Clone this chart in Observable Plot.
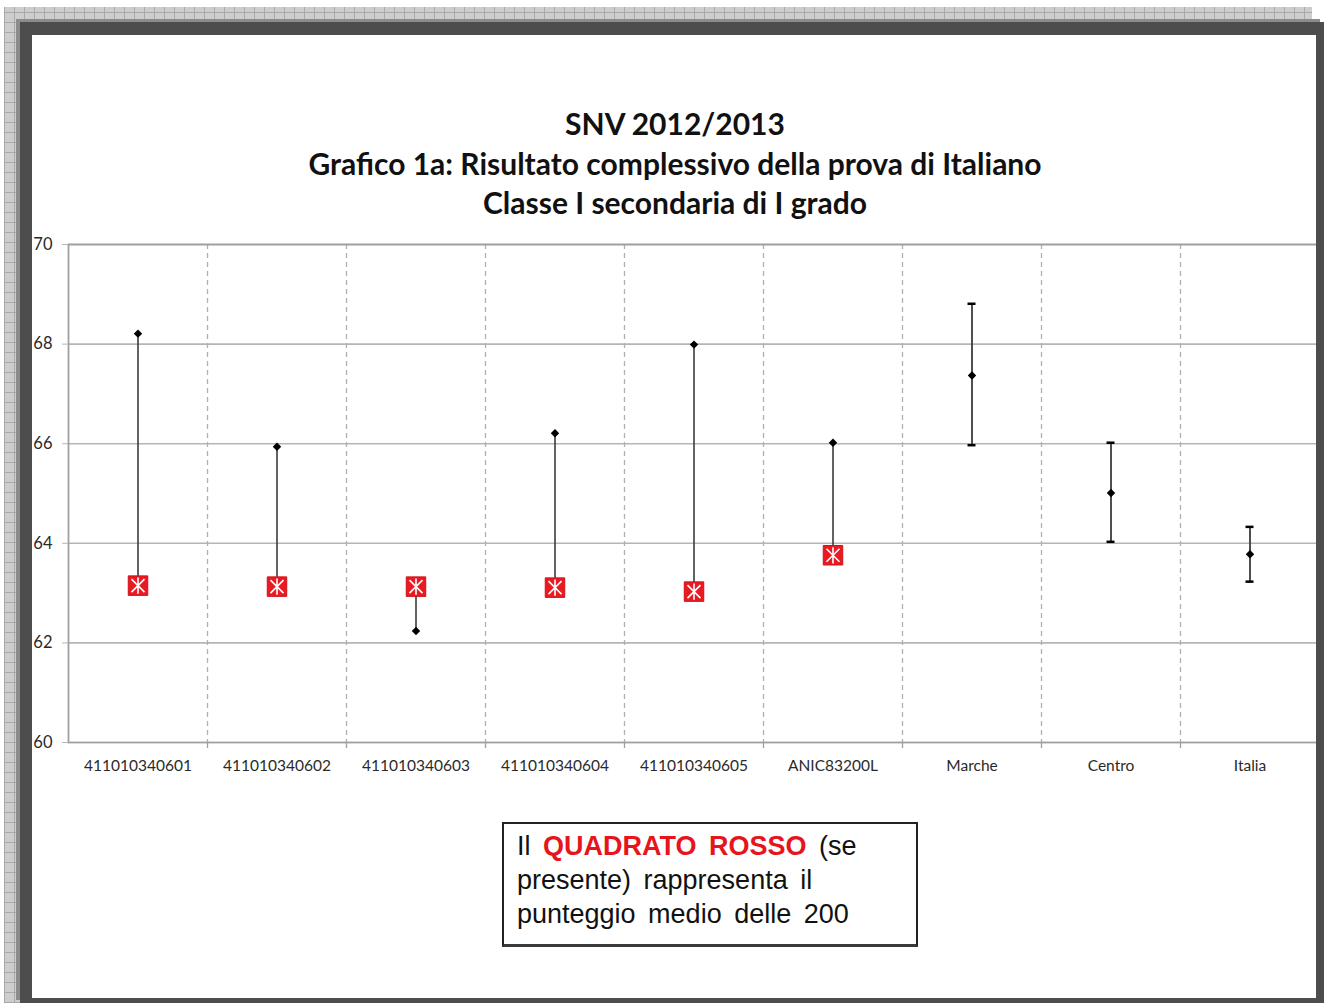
<!DOCTYPE html>
<html>
<head>
<meta charset="utf-8">
<script src="https://cdn.jsdelivr.net/npm/d3@7"></script>
<script src="https://cdn.jsdelivr.net/npm/@observablehq/plot@0.6"></script>
<style>
  html, body { margin: 0; padding: 0; background: #fff; }
  #root { position: relative; width: 1324px; height: 1003px; overflow: hidden; background: #fff; }
  #checker { position: absolute; left: 4px; top: 7px; width: 1308px; height: 996px;
    background-color: #cdcdcd;
    background-image:
      repeating-linear-gradient(0deg, #a9a9a9 0 1px, transparent 1px 10px),
      repeating-linear-gradient(90deg, #a9a9a9 0 1px, transparent 1px 10px); }
  #white { position: absolute; left: 32px; top: 35px; width: 1284px; height: 963px; background: #fff; }
  #frame { position: absolute; left: 20px; top: 22px; width: 1304px; height: 981px; box-sizing: border-box;
    border-style: solid; border-color: #4d4d4d; border-width: 13px 8px 5px 12px;
    box-shadow: -4px -3px 0 #8c8c8c; z-index: 5; }
  #title { position: absolute; left: 32px; width: 1286px; top: 104px; text-align: center;
    font-family: Lato, "Open Sans", sans-serif; font-weight: 700; font-size: 30px; line-height: 39.5px;
    letter-spacing: 0px; color: #111; }
  #chart { position: absolute; left: 32px; top: 225px; }
  #legendbox { position: absolute; left: 502px; top: 822px; width: 416px; height: 125px; box-sizing: border-box;
    border-left: 2px solid #222; border-right: 2px solid #222; border-top: 2px solid #222; border-bottom: 3px solid #3a3a3a;
    padding: 5px 0 0 13px; font-family: "Liberation Sans", Arial, sans-serif;
    font-size: 27px; line-height: 34px; word-spacing: 5px; color: #111; background: #fff; }
  #legendbox b { color: #e8141c; }
</style>
</head>
<body>
<div id="root">
  <div id="checker"></div>
  <div id="white"></div>
  <div id="title">SNV 2012/2013<br>Grafico 1a: Risultato complessivo della prova di Italiano<br>Classe I secondaria di I grado</div>
  <div id="chart"></div>
  <div id="legendbox">Il <b>QUADRATO ROSSO</b> (se<br>presente) rappresenta il<br>punteggio medio delle 200</div>
  <div id="frame"></div>
</div>
<script>
// ---- data ----
const categories = ["411010340601", "411010340602", "411010340603", "411010340604", "411010340605", "ANIC83200L", "Marche", "Centro", "Italia"];
// schools / classes: class score (black diamond) and mean of the 200 (red square)
const schoolNames = ["411010340601", "411010340602", "411010340603", "411010340604", "411010340605", "ANIC83200L"];
const schoolScore = [68.21, 65.94, 62.24, 66.21, 67.99, 66.02];
const benchmark200 = [63.15, 63.13, 63.13, 63.11, 63.03, 63.76];
// territorial references: mean with interval
const regionNames = ["Marche", "Centro", "Italia"];
const regionMean = [67.37, 65.01, 63.78];
const regionLow = [65.97, 64.03, 63.23];
const regionHigh = [68.81, 66.02, 64.33];
const yTicks = [60, 62, 64, 66, 68, 70];

const schoolRows = schoolNames.map((c, i) => ({cat: c, score: schoolScore[i], bench: benchmark200[i]}));
const regionRows = regionNames.map((c, i) => ({cat: c, mean: regionMean[i], lo: regionLow[i], hi: regionHigh[i]}));

const W = 1292, H = 575, mL = 36, mR = 5, mT = 19, mB = 58;
const bw = (W - mL - mR) / categories.length;
const grid = "#b5b5b5";

const starSymbol = {
  draw(ctx, size) {
    const r = Math.sqrt(size / Math.PI);
    ctx.moveTo(-r, -r); ctx.lineTo(r, r);
    ctx.moveTo(-r, r); ctx.lineTo(r, -r);
    ctx.moveTo(0, -r * 1.25); ctx.lineTo(0, r * 1.25);
  }
};

const chart = Plot.plot({
  width: W, height: H,
  marginLeft: mL, marginRight: mR, marginTop: mT, marginBottom: mB,
  style: {background: "transparent", fontFamily: "Lato, sans-serif"},
  x: {type: "band", domain: categories, padding: 0, axis: null, label: null},
  y: {domain: [60, 70], axis: null, label: null},
  marks: [
    Plot.ruleY(yTicks.filter(d => d > 60), {stroke: grid, strokeWidth: 1.6}),
    Plot.ruleX(categories.slice(1), {x: d => d, dx: -bw / 2, stroke: "#b0b0b0", strokeWidth: 1.3, strokeDasharray: "5,4"}),
    Plot.ruleX(categories.slice(1), {x: d => d, dx: -bw / 2, insetTop: H - mT - mB, insetBottom: -6, stroke: "#a0a0a0", strokeWidth: 1.3}),
    Plot.frame({stroke: "#a0a0a0", strokeWidth: 1.8}),
    Plot.axisY({ticks: yTicks, tickSize: 6, tickPadding: 10, stroke: grid, fill: "#2a2a2a", fontSize: 16.5, tickFormat: d => d, label: null}),
    Plot.axisX({tickSize: 0, tickPadding: 17, fill: "#2a2a2a", fontSize: 15.5, label: null}),
    // class score vs. benchmark connector
    Plot.ruleX(schoolRows, {x: "cat", y1: "score", y2: "bench", stroke: "#3c3c3c", strokeWidth: 1.6}),
    // interval for territorial references
    Plot.ruleX(regionRows, {x: "cat", y1: "lo", y2: "hi", stroke: "#3c3c3c", strokeWidth: 1.8}),
    Plot.tickY(regionRows, {x: "cat", y: "lo", insetLeft: bw / 2 - 4, insetRight: bw / 2 - 4, stroke: "#000", strokeWidth: 2.5}),
    Plot.tickY(regionRows, {x: "cat", y: "hi", insetLeft: bw / 2 - 4, insetRight: bw / 2 - 4, stroke: "#000", strokeWidth: 2.5}),
    Plot.dot(schoolRows, {x: "cat", y: "score", symbol: "diamond2", r: 3.8, fill: "#000", stroke: "none"}),
    Plot.dot(regionRows, {x: "cat", y: "mean", symbol: "diamond2", r: 3.8, fill: "#000", stroke: "none"}),
    // red square: mean of the 200
    Plot.dot(schoolRows, {x: "cat", y: "bench", symbol: "square", r: 11, fill: "#ea1a22", stroke: "#d0121a", strokeWidth: 1}),
    Plot.dot(schoolRows, {x: "cat", y: "bench", symbol: starSymbol, r: 6.5, stroke: "#fff", strokeWidth: 1.6, fill: "none"})
  ]
});
document.getElementById("chart").appendChild(chart);
</script>
</body>
</html>
